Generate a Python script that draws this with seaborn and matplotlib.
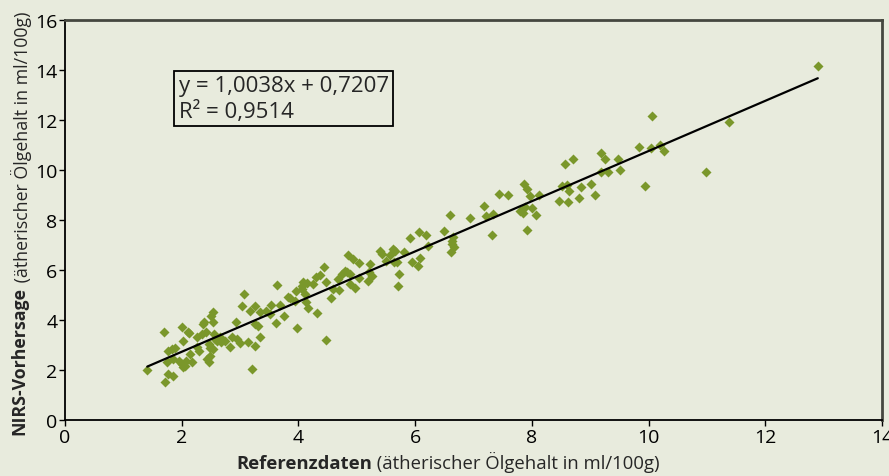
import numpy as np
import pandas as pd
import seaborn as sns
import matplotlib.pyplot as plt

# Referenzdaten vs. NIRS-Vorhersage (ätherischer Ölgehalt in ml/100g)
referenz = [
    1.41, 1.70, 1.72, 1.76, 1.85, 1.77, 1.74, 1.83, 1.88, 1.85,
    2.00, 2.03, 2.11, 2.13, 1.96, 2.00, 2.06, 2.08, 2.14, 2.17,
    2.03, 2.26, 2.29, 2.27, 2.34, 2.39, 2.37, 2.42, 2.46, 2.48,
    2.44, 2.46, 2.48, 2.51, 2.54, 2.53, 2.55, 2.57, 2.54, 2.60,
    2.66, 2.68, 2.74, 2.82, 2.86, 2.93, 2.95, 3.00, 3.03, 3.07,
    3.13, 3.17, 3.20, 3.26, 3.26, 3.26, 3.31, 3.34, 3.35, 3.44,
    3.51, 3.53, 3.62, 3.64, 3.68, 3.75, 3.83,
    3.97, 4.48, 4.31, 4.17, 4.13, 3.86, 3.94, 3.96, 4.06, 4.08,
    4.14, 4.07, 4.25, 4.11, 4.30, 4.37, 4.43, 4.48, 4.55, 4.60,
    4.68, 4.70, 4.74, 4.80, 4.83, 4.85, 4.88, 4.88, 4.94, 4.97,
    5.03, 5.04, 5.23, 5.21, 5.20, 5.26, 5.39, 5.43, 5.50, 5.57,
    5.62, 5.65, 5.63, 5.69, 5.73, 5.71, 5.81, 5.92, 5.94, 6.05,
    6.08, 6.07, 6.19, 6.22,
    6.49, 6.60, 6.63, 6.65, 6.61, 6.67, 6.64, 6.94, 7.18, 7.21,
    7.31, 7.33, 7.44, 7.60, 7.80, 7.85, 7.86, 7.92, 7.88, 7.96,
    7.91, 8.01, 8.07, 8.13, 8.47, 8.51, 8.60, 8.62,
    8.57, 8.70, 8.64, 8.80, 8.85, 9.01, 9.08, 9.18, 9.18, 9.25,
    9.31, 9.48, 9.51, 9.84, 9.94, 10.04, 10.06, 10.20, 10.27, 10.98,
    11.38, 12.90,
]
nirs = [
    2.01, 3.53, 1.53, 1.84, 1.77, 2.77, 2.33, 2.84, 2.88, 2.44,
    3.73, 3.17, 3.53, 3.48, 2.37, 2.24, 2.17, 2.37, 2.64, 2.33,
    2.11, 3.31, 2.77, 2.91, 3.44, 3.91, 3.84, 3.53, 3.04, 2.87,
    2.44, 2.31, 2.57, 4.17, 4.31, 3.93, 3.44, 3.24, 2.84, 3.17,
    3.31, 3.11, 3.17, 2.91, 3.31, 3.91, 3.24, 3.08, 4.57, 5.04,
    3.11, 4.37, 2.04, 4.57, 2.97, 3.84, 3.77, 4.31, 3.31, 4.37,
    4.24, 4.60, 3.87, 5.40, 4.60, 4.15, 4.91,
    3.68, 3.21, 4.28, 4.47, 4.73, 4.87, 4.77, 5.17, 5.24, 5.51,
    5.48, 5.37, 5.44, 5.04, 5.71, 5.80, 6.11, 5.53, 4.87, 5.24,
    5.64, 5.21, 5.84, 5.97, 5.91, 6.60, 5.84, 5.44, 6.44, 5.27,
    6.28, 5.67, 6.24, 5.91, 5.57, 5.77, 6.77, 6.64, 6.37, 6.60,
    6.84, 6.77, 6.31, 6.33, 5.84, 5.37, 6.73, 7.27, 6.33, 6.17,
    6.47, 7.53, 7.40, 6.97,
    7.57, 8.20, 7.17, 7.31, 6.71, 6.91, 7.04, 8.07, 8.55, 8.15,
    7.40, 8.24, 9.04, 9.00, 8.37, 8.28, 9.44, 9.24, 8.51, 8.97,
    7.60, 8.47, 8.20, 9.00, 8.77, 9.35, 9.40, 8.73,
    10.24, 10.44, 9.17, 8.87, 9.31, 9.44, 9.00, 9.91, 10.67, 10.44,
    9.91, 10.44, 10.00, 10.91, 9.35, 10.87, 12.15, 11.00, 10.77, 9.93,
    11.93, 14.17,
]
steigung = 1.0038
achsenabschnitt = 0.7207
x_ticks = [0, 2, 4, 6, 8, 10, 12, 14]
y_ticks = [0, 2, 4, 6, 8, 10, 12, 14, 16]

bg = '#e8ebdd'
gruen = '#7a972b'

sns.set_theme(style="white")
plt.rcParams['font.family'] = ['Open Sans', 'DejaVu Sans']

df = pd.DataFrame({'ref': referenz, 'nirs': nirs})

fig = plt.figure(figsize=(8.89, 4.77), dpi=100, facecolor=bg)
ax = fig.add_axes([0.0731, 0.1174, 0.9190, 0.8386])
ax.set_facecolor(bg)

sns.scatterplot(data=df, x='ref', y='nirs', marker='D', s=26, color=gruen,
                linewidth=0, ax=ax, zorder=2)

# Trendlinie über den Datenbereich
xl = np.array([df['ref'].min(), df['ref'].max()])
ax.plot(xl, steigung * xl + achsenabschnitt, color='black', lw=1.6, zorder=3)

ax.set_xlim(0, 14)
ax.set_ylim(0, 16)
ax.set_xticks(x_ticks)
ax.set_yticks(y_ticks)
ax.tick_params(axis='both', which='both', direction='out', length=4, width=1,
               color='black', labelcolor='black', labelsize=14, pad=1.5,
               bottom=True, left=True)
ax.set_xlabel('')
ax.set_ylabel('')

for s in ['left', 'bottom']:
    ax.spines[s].set_color('black')
    ax.spines[s].set_linewidth(1.3)
for s in ['top', 'right']:
    ax.spines[s].set_color('#45473f')
    ax.spines[s].set_linewidth(2)

ax.text(0.139, 0.804, 'y = 1,0038x + 0,7207\nR² = 0,9514', transform=ax.transAxes,
        fontsize=16, va='center', ha='left', linespacing=1.2,
        bbox=dict(boxstyle='square,pad=0.2', facecolor=bg, edgecolor='black', lw=1.3))

# Achsentitel: fetter Teil + normaler Teil
xb = fig.text(0.266, 0.008, 'Referenzdaten', fontsize=13.3, fontweight='bold',
              ha='left', va='bottom')
ax.annotate(' (ätherischer Ölgehalt in ml/100g)', xy=(1, 0), xycoords=xb,
            fontsize=13.3, ha='left', va='bottom')
yb = fig.text(0.012, 0.088, 'NIRS-Vorhersage', fontsize=12.8, fontweight='bold',
              rotation=90, ha='left', va='bottom')
ax.annotate(' (ätherischer Ölgehalt in ml/100g)', xy=(0, 1), xycoords=yb,
            fontsize=12.8, rotation=90, ha='left', va='bottom')

fig.savefig('out.png', dpi=100, facecolor=bg)
